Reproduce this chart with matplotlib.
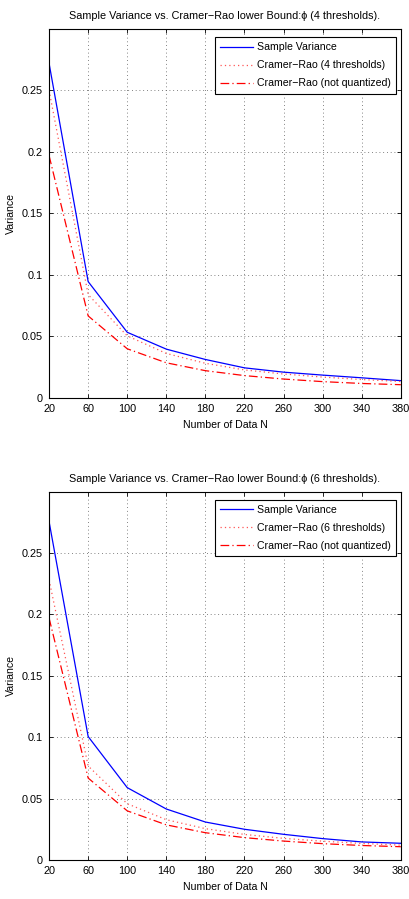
import matplotlib
matplotlib.use('Agg')
import matplotlib.pyplot as plt

plt.rcParams['font.family'] = ['Liberation Sans', 'DejaVu Sans']

# data
N = [20, 60, 100, 140, 180, 220, 260, 300, 340, 380]

# top panel (4 thresholds)
sv4 = [0.272, 0.0946, 0.0534, 0.0397, 0.0313, 0.0245, 0.0210, 0.0186, 0.0164, 0.0141]
crb4 = [0.250, 0.0840, 0.0505, 0.0362, 0.0282, 0.0228, 0.0195, 0.0170, 0.0150, 0.0134]
# bottom panel (6 thresholds)
sv6 = [0.2755, 0.1005, 0.0589, 0.0415, 0.0309, 0.0250, 0.0209, 0.0174, 0.0147, 0.0136]
crb6 = [0.228, 0.0765, 0.0458, 0.0328, 0.0255, 0.0208, 0.0176, 0.0153, 0.0135, 0.0121]
# not quantized bound, same in both panels
crb_nq = [0.197, 0.0667, 0.0400, 0.0286, 0.0222, 0.0182, 0.0154, 0.0133, 0.0118, 0.0108]

xticks = [20, 60, 100, 140, 180, 220, 260, 300, 340, 380]
yticks = [0, 0.05, 0.1, 0.15, 0.2, 0.25]
ytick_labels = ['0', '0.05', '0.1', '0.15', '0.2', '0.25']

fig = plt.figure(figsize=(4.09, 8.99), dpi=100)
ax1 = fig.add_axes([0.120, 0.5573, 0.860, 0.4104])
ax2 = fig.add_axes([0.120, 0.0434, 0.860, 0.4097])

panels = [(ax1, sv4, crb4, 4), (ax2, sv6, crb6, 6)]
for ax, sv, crb, k in panels:
    ax.plot(N, sv, color='#0000ff', lw=0.9, label='Sample Variance')
    ax.plot(N, crb, color='#ff5555', lw=0.9, linestyle=(0, (1, 2.5)),
            label='Cramer\u2212Rao (%d thresholds)' % k)
    ax.plot(N, crb_nq, color='#ff0000', lw=0.9, linestyle=(0, (7, 2.5, 1, 2.5)),
            label='Cramer\u2212Rao (not quantized)')
    ax.set_xlim(20, 380)
    ax.set_ylim(0, 0.2999)
    ax.set_xticks(xticks)
    ax.set_yticks(yticks)
    ax.set_yticklabels(ytick_labels)
    ax.tick_params(direction='in', length=3, width=0.6, labelsize=7.8,
                   top=True, right=True, pad=4.5)
    ax.grid(True, color='0.35', linestyle=(0, (1, 3.5)), linewidth=0.6)
    for s in ax.spines.values():
        s.set_linewidth(0.8)
    ax.set_xlabel('Number of Data N', fontsize=7.6, labelpad=4)
    ax.set_ylabel('Variance', fontsize=7.6, labelpad=4)
    ax.set_title('Sample Variance vs. Cramer\u2212Rao lower Bound:\u03d5 (%d thresholds).' % k,
                 fontsize=7.8, pad=7)
    leg = ax.legend(loc='upper right', bbox_to_anchor=(0.986, 0.978),
                    fontsize=7.6, handlelength=3.1,
                    borderaxespad=0, fancybox=False, framealpha=1,
                    edgecolor='black', borderpad=0.5, labelspacing=0.75,
                    handletextpad=0.37)
    leg.get_frame().set_linewidth(0.8)

fig.savefig('out.png', dpi=100)
